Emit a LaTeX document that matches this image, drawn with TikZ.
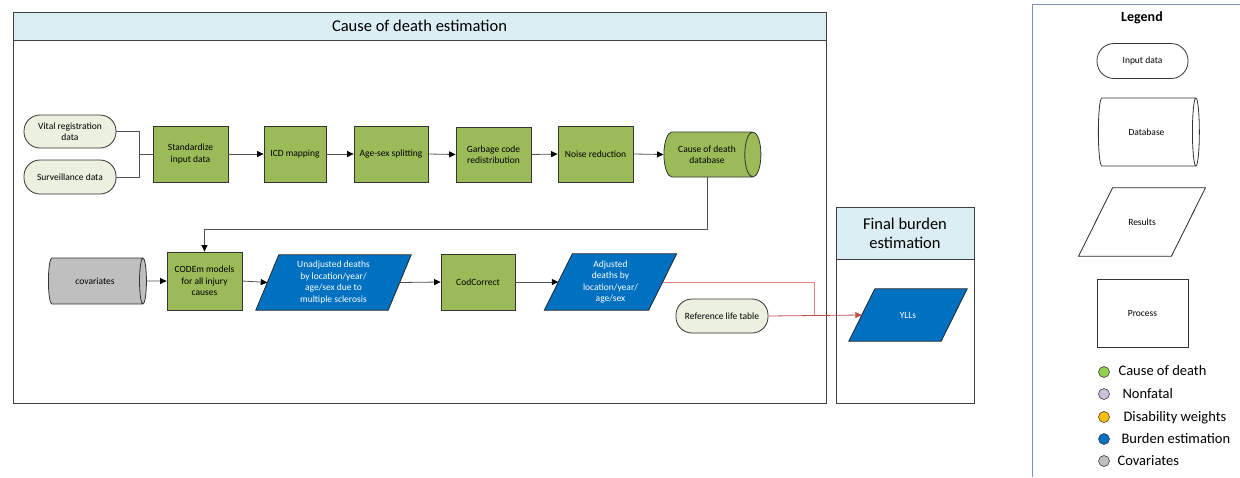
\documentclass[tikz,border=0pt]{standalone}
\usepackage{fontspec}
\setmainfont{Carlito}
\usetikzlibrary{shapes.geometric,shapes.misc,arrows.meta}
\definecolor{gfill}{RGB}{155,187,89}
\definecolor{bfill}{RGB}{0,112,192}
\definecolor{pill}{RGB}{235,241,222}
\definecolor{hdr}{RGB}{219,238,243}
\definecolor{covg}{RGB}{191,191,191}
\definecolor{frame}{RGB}{64,64,64}
\definecolor{conn}{RGB}{80,80,80}
\definecolor{redA}{RGB}{226,130,128}
\definecolor{redB}{RGB}{192,80,77}
\definecolor{legline}{RGB}{120,150,185}
\definecolor{dgreen}{RGB}{146,208,80}
\definecolor{dlav}{RGB}{204,192,218}
\definecolor{dorange}{RGB}{255,192,0}
\tikzset{
  small/.style={font=\fontsize{9.5}{11.5}\selectfont, align=center},
  proc/.style={rectangle, draw=black!80, line width=0.8pt, fill=gfill, small, inner sep=1pt},
  pillbox/.style={rectangle, rounded corners=16pt, draw=black!80, line width=0.8pt, fill=pill, small, inner sep=1pt},
  db/.style={cylinder, shape aspect=0.8, draw=black!80, line width=0.8pt, small, inner sep=1pt},
  pbox/.style={rectangle, inner sep=0pt},
  parafill/.style={draw=black!85, line width=0.8pt, fill=bfill},
  ptext/.style={small, text=white},
  conline/.style={draw=conn, line width=0.8pt},
  arr/.style={conline, -{Triangle[length=6.5pt,width=6pt,fill=black,color=black]}},
  hdrtext/.style={font=\fontsize{16.5}{19}\selectfont, align=center},
  legtext/.style={font=\fontsize{14.5}{17}\selectfont, anchor=west},
  dot/.style={circle, draw=black!75, line width=0.6pt, minimum size=11pt, inner sep=0pt}
}
\begin{document}
\begin{tikzpicture}[x=1pt,y=-1pt]
\useasboundingbox (0,0) rectangle (1240,477);
% main frame
\draw[frame, line width=1pt, fill=hdr] (13,12) rectangle (826,40);
\draw[frame, line width=1pt] (13,40) rectangle (826,403);
\node[hdrtext] (title1) at (419.5,26) {Cause of death estimation};
% final burden frame
\draw[frame, line width=1pt, fill=hdr] (836,207) rectangle (974,259);
\draw[frame, line width=1pt] (836,259) rectangle (974,403);
\node[hdrtext] (title2) at (905,233) {Final burden\\estimation};
% legend frame
\draw[legline, line width=1pt] (1240,4) -- (1032,4) -- (1032,477);

% top row
\node[pillbox, minimum width=92, minimum height=33] (vital) at (70,131.5) {Vital registration\\data};
\node[pillbox, minimum width=92, minimum height=34] (surv) at (70,177) {Surveillance data};
\node[proc, minimum width=75, minimum height=56] (std) at (190.5,154) {Standardize\\input data};
\node[proc, minimum width=62, minimum height=56] (icd) at (295,154) {ICD mapping};
\node[proc, minimum width=74, minimum height=56] (age) at (391,154) {Age-sex splitting};
\node[proc, minimum width=75, minimum height=55] (garb) at (493.5,154.5) {Garbage code\\redistribution};
\node[proc, minimum width=75, minimum height=56] (noise) at (595.5,154) {Noise reduction};
\node[db, fill=gfill, minimum height=97, minimum width=45] (cdb) at (707,154.5) {Cause of death\\database};

\coordinate (j1) at (139,154);
\draw[conline] (vital.east) -| (j1) -- (std.west);
\draw[conline] (surv.east) -| (j1);
\draw[arr] (std.east) -- (icd.west);
\draw[arr] (icd.east) -- (age.west);
\draw[arr] (age.east) -- (garb.west);
\draw[arr] (garb.east) -- (noise.west);
\draw[arr] (noise.east) -- (cdb.west);

% bottom row
\node[db, fill=covg, minimum height=98, minimum width=46] (cov) at (95,281) {covariates};
\node[proc, minimum width=75, minimum height=58] (codem) at (204.5,281) {CODEm models\\for all injury\\causes};

\node[pbox, minimum width=132, minimum height=55] (unadj) at (333.5,282.5) {};
\draw[parafill] ([xshift=11.5pt]unadj.north west) -- ([xshift=11.5pt]unadj.north east) -- ([xshift=-11.5pt]unadj.south east) -- ([xshift=-11.5pt]unadj.south west) -- cycle;
\node[ptext] (unadjt) at (unadj.center) {Unadjusted deaths\\by location/year/\\age/sex due to\\multiple sclerosis};

\node[proc, minimum width=74, minimum height=56] (codc) at (478,282) {CodCorrect};

\node[pbox, minimum width=104, minimum height=56] (adj) at (610.5,282) {};
\draw[parafill] ([xshift=14pt]adj.north west) -- ([xshift=14pt]adj.north east) -- ([xshift=-14pt]adj.south east) -- ([xshift=-14pt]adj.south west) -- cycle;
\node[ptext] (adjt) at (adj.center) {Adjusted\\deaths by\\location/year/\\age/sex};

\node[pillbox, minimum width=92, minimum height=34] (ref) at (722,316) {Reference life table};

\node[pbox, minimum width=92, minimum height=52] (yll) at (908,315) {};
\draw[parafill] ([xshift=13pt]yll.north west) -- ([xshift=13pt]yll.north east) -- ([xshift=-13pt]yll.south east) -- ([xshift=-13pt]yll.south west) -- cycle;
\node[ptext] (yllt) at (yll.center) {YLLs};

\coordinate (jd) at (707,229);
\draw[arr] (cdb.south) -- (cdb.south |- jd) -| (codem.north);
\draw[arr] (cov.east) -- (codem.west);
\draw[arr] (codem.east) -- (unadj.west);
\draw[arr] (unadj.east) -- (codc.west);
\draw[arr] (codc.east) -- (adj.west);
\coordinate (j2) at (814,316);
\draw[redA, line width=0.8pt] (adj.east) -| (j2);
\draw[redB, line width=0.8pt, -{Triangle[length=6.5pt,width=6pt]}] (ref.east) -- (yll.west);

% legend
\node[font=\fontsize{14}{16}\selectfont\bfseries] (legt) at (1142,18) {Legend};
\node[rectangle, rounded corners=17pt, draw=black!80, line width=0.8pt, small, minimum width=91, minimum height=35] (lin) at (1142.5,61) {Input data};
\node[db, minimum height=101, minimum width=68] (ldb) at (1146.5,132) {Database};
\node[pbox, minimum width=92.5, minimum height=68] (lres) at (1142,222) {};
\draw[draw=black!85, line width=0.8pt] ([xshift=17pt]lres.north west) -- ([xshift=17pt]lres.north east) -- ([xshift=-17pt]lres.south east) -- ([xshift=-17pt]lres.south west) -- cycle;
\node[small] (lrest) at (lres.center) {Results};
\node[rectangle, draw=black!80, line width=0.8pt, small, minimum width=91, minimum height=68] (lproc) at (1142.5,313) {Process};

\node[dot, fill=dgreen] (d1) at (1104,372) {};
\node[dot, fill=dlav] (d2) at (1104,394) {};
\node[dot, fill=dorange] (d3) at (1104,417) {};
\node[dot, fill=bfill] (d4) at (1104,439) {};
\node[dot, fill=covg] (d5) at (1104,461) {};
\node[legtext] (t1) at (1115,371) {Cause of death};
\node[legtext] (t2) at (1119,394) {Nonfatal};
\node[legtext] (t3) at (1120,418) {Disability weights};
\node[legtext] (t4) at (1118,439) {Burden estimation};
\node[legtext] (t5) at (1114,461) {Covariates};
\end{tikzpicture}
\end{document}
